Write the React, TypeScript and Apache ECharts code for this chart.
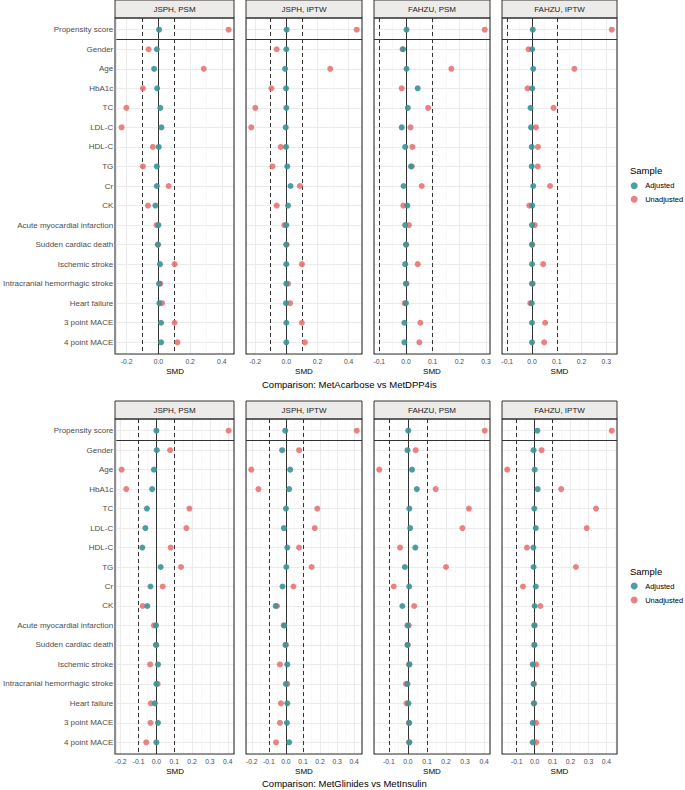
import React, { useEffect, useRef } from "react";
import * as echarts from "echarts";

// ---------- data ----------
const categories = [
  "Propensity score",
  "Gender",
  "Age",
  "HbA1c",
  "TC",
  "LDL-C",
  "HDL-C",
  "TG",
  "Cr",
  "CK",
  "Acute myocardial infarction",
  "Sudden cardiac death",
  "Ischemic stroke",
  "Intracranial hemorrhagic stroke",
  "Heart failure",
  "3 point MACE",
  "4 point MACE",
];

const panelTitles = ["JSPH, PSM", "JSPH, IPTW", "FAHZU, PSM", "FAHZU, IPTW"];
const comparisonTitles = [
  "Comparison: MetAcarbose vs MetDPP4is",
  "Comparison: MetGlinides vs MetInsulin",
];
const sampleNames = ["Adjusted", "Unadjusted"];
const legendTitle = "Sample";
const axisTitle = "SMD";

// Comparison: MetAcarbose vs MetDPP4is
const acarJsphPsmAdj = [0.004, -0.01, -0.027, -0.008, 0.012, 0.019, 0.002, -0.01, -0.01, -0.019, 0.0, -0.002, 0.01, 0.004, 0.006, 0.017, 0.017];
const acarJsphPsmUnadj = [0.443, -0.062, 0.286, -0.098, -0.202, -0.232, -0.035, -0.098, 0.065, -0.066, -0.012, -0.004, 0.102, 0.012, 0.023, 0.102, 0.12];
const acarJsphIptwAdj = [0.002, 0.0, -0.008, -0.002, 0.0, -0.004, -0.002, 0.006, 0.027, 0.011, 0.0, 0.0, 0.0, 0.0, -0.002, 0.0, 0.0];
const acarJsphIptwUnadj = [0.452, -0.062, 0.282, -0.096, -0.199, -0.225, -0.036, -0.089, 0.087, -0.062, -0.013, 0.001, 0.1, 0.011, 0.024, 0.1, 0.119];
const acarFahzuPsmAdj = [0.002, -0.011, 0.002, 0.044, 0.007, -0.016, -0.003, 0.019, -0.009, 0.005, -0.003, 0.0, -0.003, 0.0, 0.0, -0.006, -0.006];
const acarFahzuPsmUnadj = [0.295, -0.013, 0.17, -0.016, 0.083, 0.017, 0.024, 0.022, 0.059, -0.01, 0.011, 0.001, 0.044, 0.002, -0.005, 0.054, 0.05];
const acarFahzuIptwAdj = [0.003, 0.001, 0.005, 0.001, -0.006, -0.004, -0.001, -0.001, 0.005, 0.001, 0.0, 0.0, 0.0, 0.0, -0.001, 0.0, 0.0];
const acarFahzuIptwUnadj = [0.322, -0.014, 0.171, -0.018, 0.087, 0.016, 0.024, 0.023, 0.073, -0.011, 0.011, 0.001, 0.045, 0.003, -0.007, 0.053, 0.049];

// Comparison: MetGlinides vs MetInsulin
const glinJsphPsmAdj = [0.0, 0.002, -0.014, -0.024, -0.053, -0.062, -0.079, 0.024, -0.033, -0.051, -0.002, -0.002, 0.009, 0.0, -0.009, 0.009, 0.0];
const glinJsphPsmUnadj = [0.405, 0.077, -0.195, -0.169, 0.185, 0.168, 0.08, 0.138, 0.035, -0.077, -0.014, -0.001, -0.035, 0.007, -0.031, -0.033, -0.057];
const glinJsphIptwAdj = [-0.004, -0.022, 0.025, 0.019, 0.0, -0.012, 0.008, 0.002, -0.02, -0.06, -0.01, -0.002, 0.008, 0.0, 0.008, 0.006, 0.019];
const glinJsphIptwUnadj = [0.415, 0.077, -0.203, -0.161, 0.184, 0.169, 0.077, 0.151, 0.044, -0.052, -0.013, -0.001, -0.035, 0.008, -0.029, -0.035, -0.058];
const glinFahzuPsmAdj = [0.002, -0.002, 0.022, 0.047, 0.008, 0.012, 0.039, -0.016, 0.007, -0.029, -0.002, -0.002, 0.008, -0.002, 0.003, 0.007, 0.008];
const glinFahzuPsmUnadj = [0.403, 0.041, -0.15, 0.146, 0.32, 0.286, -0.041, 0.2, -0.074, 0.033, 0.005, -0.001, 0.006, -0.01, -0.007, 0.005, 0.006];
const glinFahzuIptwAdj = [0.015, -0.006, 0.0, 0.017, -0.002, 0.006, -0.007, -0.006, 0.006, 0.0, -0.002, -0.002, -0.011, -0.006, -0.004, -0.011, -0.011];
const glinFahzuIptwUnadj = [0.43, 0.039, -0.153, 0.148, 0.342, 0.29, -0.043, 0.23, -0.065, 0.032, 0.0, -0.001, 0.008, -0.004, -0.003, 0.008, 0.008];

const referenceLines = [-0.1, 0.1];
const majorSteps = [0.2, 0.2, 0.1, 0.1, 0.1, 0.1, 0.1, 0.1];

const panelData = [
  [acarJsphPsmAdj, acarJsphPsmUnadj],
  [acarJsphIptwAdj, acarJsphIptwUnadj],
  [acarFahzuPsmAdj, acarFahzuPsmUnadj],
  [acarFahzuIptwAdj, acarFahzuIptwUnadj],
  [glinJsphPsmAdj, glinJsphPsmUnadj],
  [glinJsphIptwAdj, glinJsphIptwUnadj],
  [glinFahzuPsmAdj, glinFahzuPsmUnadj],
  [glinFahzuIptwAdj, glinFahzuIptwUnadj],
];

// ---------- layout / style ----------
const FONT = "'Liberation Sans', Arial, Helvetica, sans-serif";
const TEAL = "#3A9494";
const RED = "#E8706E";
const DARK = "#333333";
const GRIDC = "#EBEBEB";
const PANEL_LEFTS = [115, 246, 374, 502];
const PANEL_WIDTHS = [119, 116, 116, 115];
const BLOCKS = [
  { stripTop: 0, plotTop: 18, plotHeight: 336, titleY: 384, legendTitleY: 170, legendTop: 181.2, legendGap: 4.6 },
  { stripTop: 401, plotTop: 419, plotHeight: 335, titleY: 783, legendTitleY: 571, legendTop: 581.5, legendGap: 5 },
];
const STRIP_H = 18;

function buildOption() {
  const grid: any[] = [];
  const xAxis: any[] = [];
  const yAxis: any[] = [];
  const series: any[] = [];
  const graphic: any[] = [];

  panelData.forEach(([adj, unadj], g) => {
    const b = Math.floor(g / 4);
    const p = g % 4;
    const blk = BLOCKS[b];
    const left = PANEL_LEFTS[p];
    const width = PANEL_WIDTHS[p];
    const step = majorSteps[g];

    const all = [...adj, ...unadj, ...referenceLines];
    const lo = Math.min(...all);
    const hi = Math.max(...all);
    const pad = (hi - lo) * 0.05;

    grid.push({ left, top: blk.plotTop, width, height: blk.plotHeight, show: false, containLabel: false });

    xAxis.push({
      gridIndex: g,
      type: "value",
      min: lo - pad,
      max: hi + pad,
      minInterval: step,
      maxInterval: step,
      splitNumber: 5,
      axisLine: { show: false },
      axisTick: { show: false },
      axisLabel: {
        fontSize: 6.8,
        color: "#4D4D4D",
        fontFamily: FONT,
        fontWeight: "normal",
        margin: 4,
        formatter: (v: number) => {
          const k = v / step;
          if (Math.abs(k - Math.round(k)) > 1e-6) return "";
          return Math.abs(v) < 1e-9 ? "0.0" : v.toFixed(1);
        },
      },
      splitLine: { show: true, lineStyle: { color: GRIDC, width: 1 } },
      minorTick: { show: false, splitNumber: 2 },
      minorSplitLine: { show: true, lineStyle: { color: "#F3F3F3", width: 0.6 } },
      name: axisTitle,
      nameLocation: "middle",
      nameGap: 13,
      nameTextStyle: { fontSize: 8, color: "#000", fontFamily: FONT, fontWeight: "normal" },
    });

    yAxis.push({
      gridIndex: g,
      type: "value",
      inverse: true,
      min: -0.6,
      max: categories.length - 1 + 0.6,
      minInterval: 1,
      maxInterval: 1,
      axisLine: { show: false },
      axisTick: { show: false },
      axisLabel: {
        show: p === 0,
        fontSize: 8,
        color: "#4D4D4D",
        fontFamily: FONT,
        fontWeight: "normal",
        margin: 3,
        formatter: (v: number) => (Number.isInteger(v) && categories[v] ? categories[v] : ""),
      },
      splitLine: { show: true, lineStyle: { color: GRIDC, width: 1 } },
    });

    series.push({
      type: "scatter",
      name: sampleNames[1],
      xAxisIndex: g,
      yAxisIndex: g,
      data: unadj.map((v, i) => [v, i]),
      symbol: "circle",
      symbolSize: 6,
      itemStyle: { color: RED, opacity: 0.88 },
      z: 3,
      clip: false,
      markLine: {
        silent: true,
        symbol: ["none", "none"],
        label: { show: false },
        z: 2,
        animation: false,
        data: [
          { xAxis: 0, lineStyle: { type: "solid", color: DARK, width: 1 } },
          ...referenceLines.map((r) => ({ xAxis: r, lineStyle: { type: [4, 3], color: DARK, width: 1 } })),
          { yAxis: 0.5, lineStyle: { type: "solid", color: DARK, width: 1.1 } },
        ],
      },
    });
    series.push({
      type: "scatter",
      name: sampleNames[0],
      xAxisIndex: g,
      yAxisIndex: g,
      data: adj.map((v, i) => [v, i]),
      symbol: "circle",
      symbolSize: 6,
      itemStyle: { color: TEAL, opacity: 0.9 },
      z: 4,
      clip: false,
    });

    // strip
    graphic.push({
      type: "rect",
      silent: true,
      z: 10,
      shape: { x: left, y: blk.stripTop, width, height: STRIP_H },
      style: { fill: "#EDEBE9", stroke: DARK, lineWidth: 1 },
    });
    graphic.push({
      type: "text",
      silent: true,
      z: 11,
      x: left + width / 2,
      y: blk.stripTop + STRIP_H / 2,
      style: {
        text: panelTitles[p],
        fontSize: 8,
        fontFamily: FONT,
        fontWeight: "normal",
        fill: "#1A1A1A",
        align: "center",
        verticalAlign: "middle",
      },
    });
    // panel border
    graphic.push({
      type: "rect",
      silent: true,
      z: 10,
      shape: { x: left, y: blk.plotTop, width, height: blk.plotHeight },
      style: { fill: "transparent", stroke: DARK, lineWidth: 1.1 },
    });
  });

  BLOCKS.forEach((blk, b) => {
    graphic.push({
      type: "text",
      silent: true,
      x: 262,
      y: blk.titleY,
      style: {
        text: comparisonTitles[b],
        fontSize: 9.5,
        fontFamily: FONT,
        fontWeight: "normal",
        fill: "#000",
        align: "left",
        verticalAlign: "middle",
      },
    });
    graphic.push({
      type: "text",
      silent: true,
      x: 630,
      y: blk.legendTitleY,
      style: {
        text: legendTitle,
        fontSize: 9.5,
        fontFamily: FONT,
        fontWeight: "normal",
        fill: "#000",
        align: "left",
        verticalAlign: "middle",
      },
    });
  });

  const legend = BLOCKS.map((blk) => ({
    data: sampleNames,
    orient: "vertical",
    left: 630.7,
    top: blk.legendTop,
    padding: 0,
    itemWidth: 12,
    itemHeight: 7,
    itemGap: blk.legendGap,
    icon: "circle",
    selectedMode: false,
    textStyle: { fontSize: 7.5, color: "#000", fontFamily: FONT, lineHeight: 9 },
  }));

  return {
    animation: false,
    backgroundColor: "#ffffff",
    textStyle: { fontFamily: FONT },
    grid,
    xAxis,
    yAxis,
    series,
    legend,
    graphic,
  };
}

export default function App() {
  const ref = useRef<HTMLDivElement>(null);
  useEffect(() => {
    document.body.style.margin = "0";
    if (!ref.current) return;
    const chart = echarts.init(ref.current, undefined, { renderer: "svg" });
    chart.setOption(buildOption() as any);
    return () => chart.dispose();
  }, []);
  return (
    <div
      ref={ref}
      style={{ position: "fixed", left: 0, top: 0, width: 685, height: 790, background: "#fff" }}
    />
  );
}
